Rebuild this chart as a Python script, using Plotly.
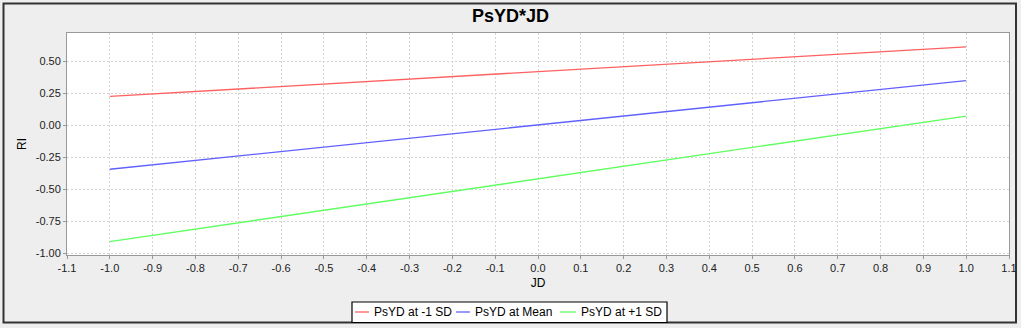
import plotly.graph_objects as go

x_vals = [-1.0, 1.0]
series_names = ["PsYD at -1 SD", "PsYD at Mean", "PsYD at +1 SD"]
low_sd = [0.225, 0.612]
mean_vals = [-0.343, 0.349]
high_sd = [-0.908, 0.072]
colors = ["#ff6060", "#6060ff", "#60ff60"]

x_ticks = [round(-1.1 + 0.1 * i, 1) for i in range(23)]
y_ticks = [-1.0, -0.75, -0.5, -0.25, 0.0, 0.25, 0.5]

W, H = 1021, 328
L, R, T, B = 67, 12, 33, 73
pw, ph = W - L - R, H - T - B

def px_x(p):
    return (p - L) / pw

def px_y(p):
    return (H - B - p) / ph

fig = go.Figure()
for name, ys, c in zip(series_names, [low_sd, mean_vals, high_sd], colors):
    fig.add_trace(go.Scatter(x=x_vals, y=ys, mode="lines", name=name,
                             showlegend=False, line=dict(color=c, width=1.3)))

font = "Liberation Sans, Arial, sans-serif"
grid = dict(showgrid=True, gridcolor="#d4d4d4", griddash="2px,2px", gridwidth=1,
            zeroline=False, showline=True, linecolor="#999999", mirror=True,
            ticks="outside", ticklen=3, tickcolor="#999999", automargin=False,
            tickfont=dict(size=11, color="#222222"))
fig.update_layout(
    width=W, height=H,
    margin=dict(l=L, r=R, t=T, b=B, pad=0, autoexpand=False),
    paper_bgcolor="#eeeeee",
    plot_bgcolor="#ffffff",
    font=dict(family=font, size=11, color="#222222"),
    title=dict(text="<b>PsYD*JD</b>", x=0.5, xanchor="center", y=1 - 16 / H,
               yanchor="middle", font=dict(size=18, color="#000000", family=font)),
    showlegend=False,
    xaxis=dict(range=[-1.1, 1.1], tickvals=x_ticks,
               ticktext=[f"{v:.1f}" for v in x_ticks],
               title=dict(text="JD", standoff=5, font=dict(size=12, color="#000000")),
               **grid),
    yaxis=dict(range=[-1.012, 0.72], tickvals=y_ticks,
               ticktext=[f"{v:.2f}" for v in y_ticks],
               title=dict(text="RI", standoff=6, font=dict(size=12, color="#000000")),
               **grid),
)

# outer frame
fig.add_shape(type="rect", xref="paper", yref="paper",
              x0=px_x(3.5), x1=px_x(1016), y0=px_y(322.5), y1=px_y(3.5),
              line=dict(color="#333333", width=2), fillcolor="rgba(0,0,0,0)", layer="below")

# custom legend
fig.add_shape(type="rect", xref="paper", yref="paper",
              x0=px_x(352), x1=px_x(667), y0=px_y(322.5), y1=px_y(302),
              line=dict(color="#000000", width=1.2), fillcolor="#ffffff", layer="below")
legend_line_x = [(355, 369), (456, 470), (560, 576)]
legend_text_x = [372, 473, 579]
ly = 312
for name, c, (a, b), tx in zip(series_names, colors, legend_line_x, legend_text_x):
    fig.add_shape(type="line", xref="paper", yref="paper",
                  x0=px_x(a), x1=px_x(b), y0=px_y(ly), y1=px_y(ly),
                  line=dict(color=c, width=1.3))
    fig.add_annotation(text=name, xref="paper", yref="paper", x=px_x(tx), y=px_y(ly),
                       xanchor="left", yanchor="middle", showarrow=False,
                       font=dict(size=12, color="#000000", family=font))

fig.write_html("out.html", config={"displayModeBar": False},
               post_script="document.body.style.margin='0';")
